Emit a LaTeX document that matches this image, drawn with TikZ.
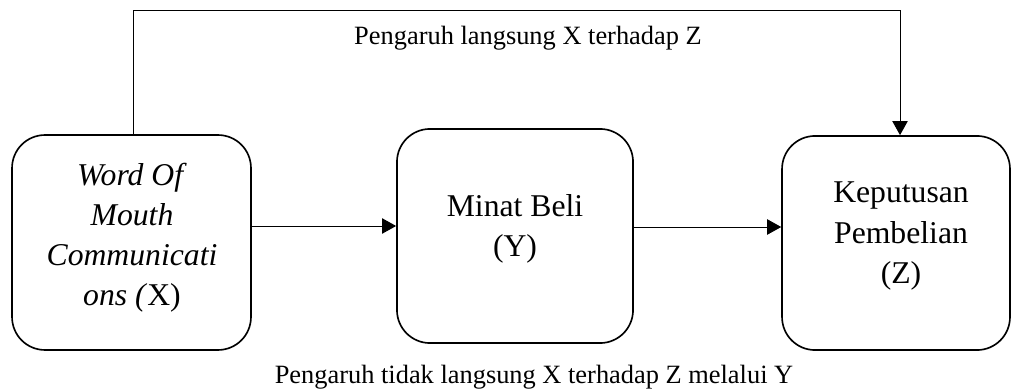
\documentclass[tikz,border=0pt]{standalone}
\usepackage{fontspec}
\setmainfont{Liberation Serif}
\usetikzlibrary{arrows.meta}
\begin{document}
\begin{tikzpicture}[x=0.4545pt, y=-0.4545pt,
  box/.style={draw, line width=0.75pt, rounded corners=15pt, inner sep=0pt},
  boxtext/.style={align=center, inner sep=0pt, font=\fontsize{14.4}{18.2}\selectfont},
  lbl/.style={inner sep=0pt, anchor=base, font=\fontsize{12}{14}\selectfont},
  conn/.style={line width=0.45pt},
  arr/.style={conn, -{Triangle[length=6.4pt, width=7pt]}}]
\useasboundingbox (0,0) rectangle (1012,390);

% variable boxes
\node[box, minimum width=108.6pt, minimum height=97.7pt] (xbox) at (131.5,242.5) {};
\node[box, minimum width=107.3pt, minimum height=97.3pt] (ybox) at (515,236) {};
\node[box, minimum width=103.6pt, minimum height=97.3pt] (zbox) at (896,243) {};

% box labels
\node[boxtext] (xtext) at (132,237.5) {\textit{Word Of}\\ \textit{Mouth}\\ \textit{Communicati}\\ \textit{ons (}X)};
\node[boxtext] (ytext) at (515,229) {Minat Beli\\ (Y)};
\node[boxtext] (ztext) at (901,236) {Keputusan\\ Pembelian\\ (Z)};

% indirect path X -> Y -> Z
\coordinate (r1) at (0,226);
\coordinate (r2) at (0,227);
\draw[arr] (xbox.east |- r1) -- (ybox.west |- r1);
\draw[arr] (ybox.east |- r2) -- (zbox.west |- r2);

% direct path X -> Z over the top
\coordinate (c1) at (133,10);
\coordinate (c2) at (900,10);
\draw[arr] (xbox.north -| c1) -- (c1) -- (c2) -- (zbox.north -| c2);

% path labels
\node[lbl] (direct) at (528,45) {Pengaruh langsung X terhadap Z};
\node[lbl] (indirect) at (534,383) {Pengaruh tidak langsung X terhadap Z melalui Y};
\end{tikzpicture}
\end{document}
